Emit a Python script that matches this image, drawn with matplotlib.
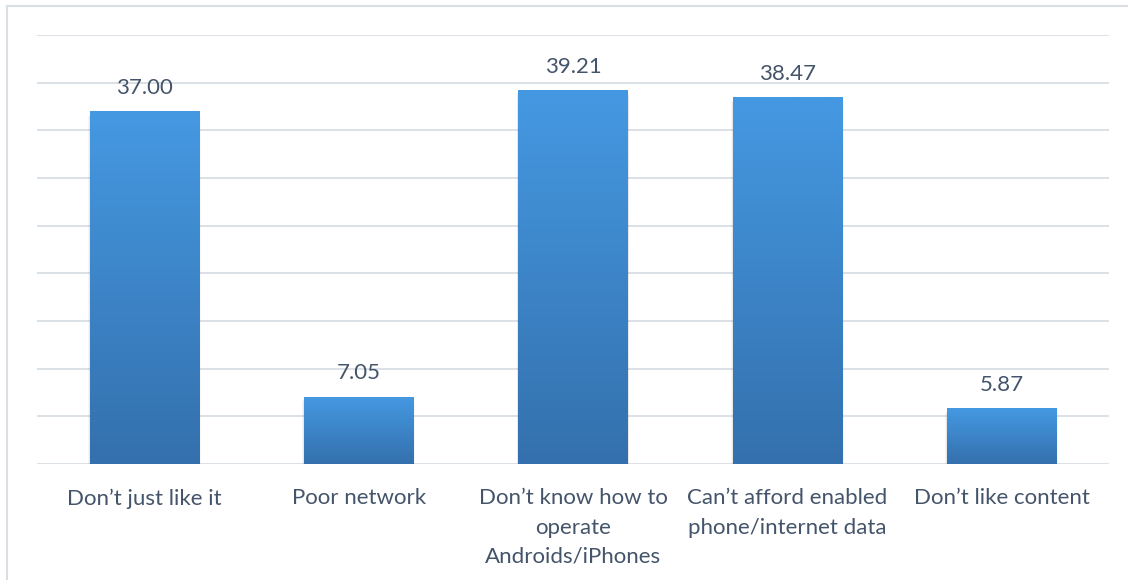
import numpy as np
import matplotlib.pyplot as plt
from matplotlib.patches import Rectangle
from matplotlib.colors import LinearSegmentedColormap

categories = [
    "Don\u2019t just like it",
    "Poor network",
    "Don\u2019t know how to\noperate\nAndroids/iPhones",
    "Can\u2019t afford enabled\nphone/internet data",
    "Don\u2019t like content",
]
values = [37.00, 7.05, 39.21, 38.47, 5.87]

plt.rcParams['font.family'] = ['Lato', 'DejaVu Sans']
text_col = '#44546A'
grid_col = '#DCE1E7'

fig = plt.figure(figsize=(11.28, 5.8), dpi=100)
ax = fig.add_axes([37/1128, 116/580, 1072/1128, 429/580])

x = np.arange(len(values))
bars = ax.bar(x, values, width=0.51, color='none', zorder=3)

# vertical gradient inside each bar, lighter at the top
cmap = LinearSegmentedColormap.from_list('barfade', ['#3470AD', '#4599E2'])
grad = np.linspace(0, 1, 256).reshape(-1, 1)
for b in bars:
    x0, w, h = b.get_x(), b.get_width(), b.get_height()
    # soft shadow under the bar
    for k, a in enumerate([0.10, 0.06, 0.03]):
        sh = Rectangle((x0 - 0.004 * k, -0.25 - 0.12 * k), w + 0.008 * k, h,
                       facecolor='black', alpha=a, edgecolor='none', zorder=2)
        ax.add_patch(sh)
    im = ax.imshow(grad, cmap=cmap, origin='lower', aspect='auto',
                   extent=(x0, x0 + w, 0, h), zorder=3)
    im.set_clip_path(b)
    ax.text(x0 + w / 2, h + 1.4, f"{h:.2f}", ha='center', va='bottom',
            fontsize=16, color=text_col, zorder=4)

ax.set_xlim(-0.5, len(values) - 0.5)
ax.set_ylim(0, 45)
ax.set_yticks(np.arange(0, 46, 5))
ax.yaxis.grid(True, color=grid_col, linewidth=1.4, zorder=0)
ax.tick_params(axis='y', left=False, labelleft=False)
ax.tick_params(axis='x', bottom=False, pad=14)
ax.set_xticks(x)
ax.set_xticklabels(categories, fontsize=16, color=text_col, linespacing=1.58)
for s in ax.spines.values():
    s.set_visible(False)

# outer chart frame, running off the right and bottom edges
frame = Rectangle((7/1128, -0.1), 1.2, 1 - 6/580 + 0.1, transform=fig.transFigure,
                  facecolor='none', edgecolor='#DADFE5', linewidth=1.5)
fig.patches.append(frame)

fig.savefig('out.png', dpi=100)
